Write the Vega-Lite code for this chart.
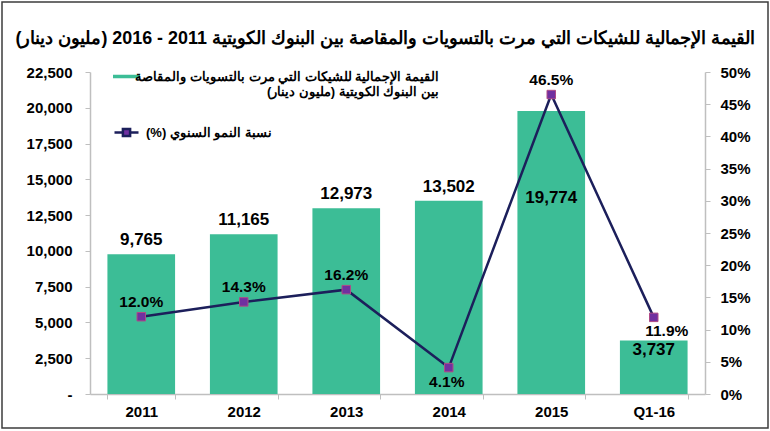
{
  "$schema": "https://vega.github.io/schema/vega-lite/v6.json",
  "width": 766,
  "height": 426,
  "autosize": {"type": "none"},
  "padding": {"left": 2, "top": 2, "right": 2, "bottom": 3},
  "background": "white",
  "config": {
    "font": "Liberation Sans",
    "view": {"stroke": "#3c3c3c", "strokeWidth": 1.5}
  },
  "title": {
    "text": "\u200fالقيمة الإجمالية للشيكات التي مرت بالتسويات والمقاصة بين البنوك الكويتية 2011 - 2016 (مليون دينار)\u200f",
    "font": "Liberation Sans",
    "fontSize": 17.9,
    "fontWeight": "bold",
    "color": "#000000",
    "anchor": "middle",
    "offset": -46
  },
  "data": {
    "values": [
      {"period": "2011", "amount": 9765, "growth": 0.120},
      {"period": "2012", "amount": 11165, "growth": 0.143},
      {"period": "2013", "amount": 12973, "growth": 0.162},
      {"period": "2014", "amount": 13502, "growth": 0.041},
      {"period": "2015", "amount": 19774, "growth": 0.465},
      {"period": "Q1-16", "amount": 3737, "growth": 0.119}
    ]
  },
  "encoding": {
    "x": {
      "field": "period",
      "type": "nominal",
      "sort": null,
      "scale": {"type": "band", "range": [88, 703], "paddingInner": 0.34, "paddingOuter": 0.17},
      "axis": {
        "title": null,
        "orient": "bottom",
        "offset": -34,
        "labelAngle": 0,
        "labelFont": "Liberation Sans",
        "labelFontSize": 15,
        "labelFontWeight": "bold",
        "labelColor": "#000000",
        "labelPadding": 5,
        "tickBand": "extent",
        "tickSize": 5,
        "tickColor": "#bfbfbf",
        "domainColor": "#bfbfbf",
        "domainWidth": 1.5,
        "grid": false
      }
    }
  },
  "layer": [
    {
      "layer": [
        {
          "mark": {"type": "bar"},
          "encoding": {
            "y": {
              "field": "amount",
              "type": "quantitative",
              "scale": {"domain": [0, 22500], "range": [392, 70], "nice": false},
              "axis": {
                "title": null,
                "orient": "left",
                "offset": -88,
                "values": [0, 2500, 5000, 7500, 10000, 12500, 15000, 17500, 20000, 22500],
                "labelExpr": "datum.value == 0 ? '-' : format(datum.value, ',')",
                "labelFont": "Liberation Sans",
                "labelFontSize": 15,
                "labelFontWeight": "bold",
                "labelColor": "#000000",
                "labelPadding": 13,
                "tickSize": 5,
                "tickColor": "#bfbfbf",
                "domainColor": "#bfbfbf",
                "domainWidth": 1.5,
                "grid": false
              }
            },
            "color": {
              "datum": "القيمة الإجمالية للشيكات التي مرت بالتسويات والمقاصة|\u200fبين البنوك الكويتية (مليون دينار)\u200f",
              "scale": {"range": ["#3cbd96"]},
              "legend": {
                "title": null,
                "orient": "none",
                "legendX": 111,
                "legendY": 61,
                "padding": 0,
                "symbolType": "M-1,-0.13H1V0.13H-1Z",
                "symbolSize": 729,
                "symbolStrokeWidth": 0,
                "labelExpr": "split(datum.label, '|')",
                "labelFont": "Liberation Sans",
                "labelFontSize": 13,
                "labelFontWeight": "bold",
                "labelColor": "#000000",
                "labelAlign": "right",
                "labelOffset": 299,
                "labelLimit": 600
              }
            }
          }
        },
        {
          "transform": [{"filter": "datum.period != '2015' && datum.period != 'Q1-16'"}],
          "mark": {"type": "text", "baseline": "bottom", "dy": -5, "fontSize": 17, "fontWeight": "bold", "font": "Liberation Sans", "color": "#000000"},
          "encoding": {
            "y": {"field": "amount", "type": "quantitative"},
            "text": {"field": "amount", "type": "quantitative", "format": ","}
          }
        },
        {
          "transform": [{"filter": "datum.period == '2015'"}],
          "mark": {"type": "text", "baseline": "middle", "dy": 87, "fontSize": 17, "fontWeight": "bold", "font": "Liberation Sans", "color": "#000000"},
          "encoding": {
            "y": {"field": "amount", "type": "quantitative"},
            "text": {"field": "amount", "type": "quantitative", "format": ","}
          }
        },
        {
          "transform": [{"filter": "datum.period == 'Q1-16'"}],
          "mark": {"type": "text", "baseline": "top", "dy": 1, "fontSize": 17, "fontWeight": "bold", "font": "Liberation Sans", "color": "#000000"},
          "encoding": {
            "y": {"field": "amount", "type": "quantitative"},
            "text": {"field": "amount", "type": "quantitative", "format": ","}
          }
        }
      ]
    },
    {
      "layer": [
        {
          "mark": {"type": "line", "strokeWidth": 2.5},
          "encoding": {
            "y": {
              "field": "growth",
              "type": "quantitative",
              "scale": {"domain": [0, 0.5], "range": [392, 70], "nice": false},
              "axis": {
                "title": null,
                "orient": "right",
                "offset": -63,
                "values": [0, 0.05, 0.1, 0.15, 0.2, 0.25, 0.3, 0.35, 0.4, 0.45, 0.5],
                "format": ".0%",
                "labelFont": "Liberation Sans",
                "labelFontSize": 15,
                "labelFontWeight": "bold",
                "labelColor": "#000000",
                "labelPadding": 10,
                "tickSize": 5,
                "tickColor": "#bfbfbf",
                "domainColor": "#bfbfbf",
                "domainWidth": 1.5,
                "grid": false
              }
            },
            "stroke": {
              "datum": "نسبة النمو السنوي  (%)\u200f",
              "scale": {"range": ["#1c1f5b"]},
              "legend": {
                "title": null,
                "orient": "none",
                "legendX": 111,
                "legendY": 117,
                "padding": 0,
                "symbolType": "M-1,0H-0.3M0.3,0H1M-0.3,-0.3H0.3V0.3H-0.3Z",
                "symbolSize": 576,
                "labelFont": "Liberation Sans",
                "labelFontSize": 13,
                "labelFontWeight": "bold",
                "labelColor": "#000000",
                "labelOffset": 6,
                "labelLimit": 600,
                "encode": {
                  "symbols": {
                    "update": {
                      "fill": {"value": "#7030a0"},
                      "stroke": {"value": "#1c1f5b"},
                      "strokeWidth": {"value": 2.5}
                    }
                  }
                }
              }
            }
          }
        },
        {
          "mark": {"type": "square", "size": 72, "filled": true, "color": "#7030a0", "stroke": "#b04a86", "strokeWidth": 1, "opacity": 1},
          "encoding": {
            "y": {"field": "growth", "type": "quantitative"}
          }
        },
        {
          "transform": [{"filter": "datum.period != '2014' && datum.period != 'Q1-16'"}],
          "mark": {"type": "text", "baseline": "bottom", "dy": -7, "fontSize": 15.5, "fontWeight": "bold", "font": "Liberation Sans", "color": "#000000"},
          "encoding": {
            "y": {"field": "growth", "type": "quantitative"},
            "text": {"field": "growth", "type": "quantitative", "format": ".1%"}
          }
        },
        {
          "transform": [{"filter": "datum.period == '2014'"}],
          "mark": {"type": "text", "baseline": "top", "dy": 7, "dx": -2, "fontSize": 15.5, "fontWeight": "bold", "font": "Liberation Sans", "color": "#000000"},
          "encoding": {
            "y": {"field": "growth", "type": "quantitative"},
            "text": {"field": "growth", "type": "quantitative", "format": ".1%"}
          }
        },
        {
          "transform": [{"filter": "datum.period == 'Q1-16'"}],
          "mark": {"type": "text", "baseline": "top", "dy": 7, "dx": 13, "fontSize": 15.5, "fontWeight": "bold", "font": "Liberation Sans", "color": "#000000"},
          "encoding": {
            "y": {"field": "growth", "type": "quantitative"},
            "text": {"field": "growth", "type": "quantitative", "format": ".1%"}
          }
        }
      ]
    }
  ],
  "resolve": {"scale": {"y": "independent", "color": "independent", "stroke": "independent"}}
}
